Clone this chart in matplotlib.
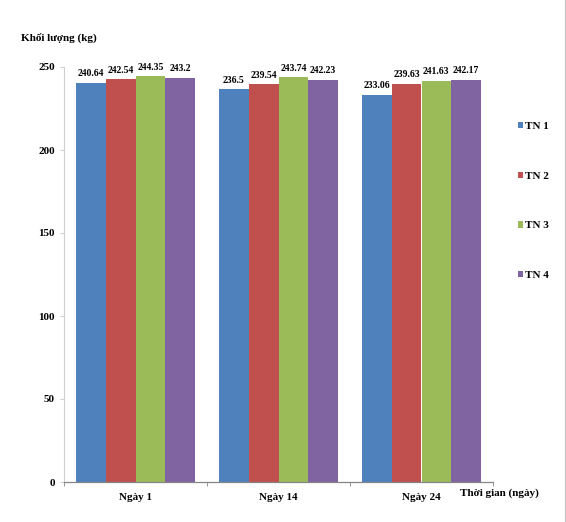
import numpy as np
import matplotlib.pyplot as plt
from matplotlib.lines import Line2D

plt.rcParams['font.family'] = ['Liberation Serif', 'DejaVu Serif']
plt.rcParams['font.weight'] = 'bold'

# dữ liệu
groups = ['Ngày 1', 'Ngày 14', 'Ngày 24']
series = ['TN 1', 'TN 2', 'TN 3', 'TN 4']
tn1 = [240.64, 236.5, 233.06]
tn2 = [242.54, 239.54, 239.63]
tn3 = [244.35, 243.74, 241.63]
tn4 = [243.2, 242.23, 242.17]
labels = [['240.64', '236.5', '233.06'],
          ['242.54', '239.54', '239.63'],
          ['244.35', '243.74', '241.63'],
          ['243.2', '242.23', '242.17']]
colors = ['#4F81BD', '#C0504D', '#9BBB59', '#8064A2']

fig = plt.figure(figsize=(5.66, 5.22), dpi=100)
ax = fig.add_axes([64 / 566, 1 - 482 / 522, 429 / 566, 415 / 522])

x = np.arange(len(groups))
w = 0.208
for i, vals in enumerate([tn1, tn2, tn3, tn4]):
    pos = x + (i - 1.5) * w
    bars = ax.bar(pos, vals, w, color=colors[i], label=series[i])
    for b, txt in zip(bars, labels[i]):
        ax.annotate(txt, (b.get_x() + b.get_width() / 2, b.get_height()),
                    xytext=(0, 3.5), textcoords='offset points',
                    ha='center', va='bottom', fontsize=7, fontweight='bold')

ax.set_xlim(-0.5, 2.5)
ax.set_ylim(0, 250)
ax.set_yticks(range(0, 251, 50))
ax.set_xticks(x)
ax.set_xticklabels(groups)
ax.set_xticks([-0.5, 0.5, 1.5, 2.5], minor=True)
ax.tick_params(axis='x', which='major', length=0, pad=8, labelsize=8)
ax.tick_params(axis='x', which='minor', length=3, color='#868686', direction='out')
ax.tick_params(axis='y', length=3, color='#d0d0d0', labelsize=8, pad=3.5)
for lab in ax.get_xticklabels() + ax.get_yticklabels():
    lab.set_fontweight('bold')

for s in ['top', 'right']:
    ax.spines[s].set_visible(False)
ax.spines['left'].set_color('#d0d0d0')
ax.spines['left'].set_linewidth(0.8)
ax.spines['bottom'].set_color('#868686')
ax.spines['bottom'].set_linewidth(0.9)

fig.text(21 / 566, 1 - 38 / 522, 'Khối lượng (kg)', fontsize=8, fontweight='bold',
         ha='left', va='center')
fig.text(460 / 566, 1 - 493 / 522, 'Thời gian (ngày)', fontsize=8, fontweight='bold',
         ha='left', va='center')

leg = ax.legend(loc='center left', bbox_to_anchor=(1.034, 0.677), frameon=False,
                handlelength=0.5, handleheight=0.5, handletextpad=0.2,
                labelspacing=3.66, prop={'size': 8, 'weight': 'bold'})

fig.add_artist(Line2D([565 / 566, 565 / 566], [0, 1], transform=fig.transFigure,
                      color='#bfbfbf', linewidth=0.8))

plt.savefig('out.png', dpi=100)
